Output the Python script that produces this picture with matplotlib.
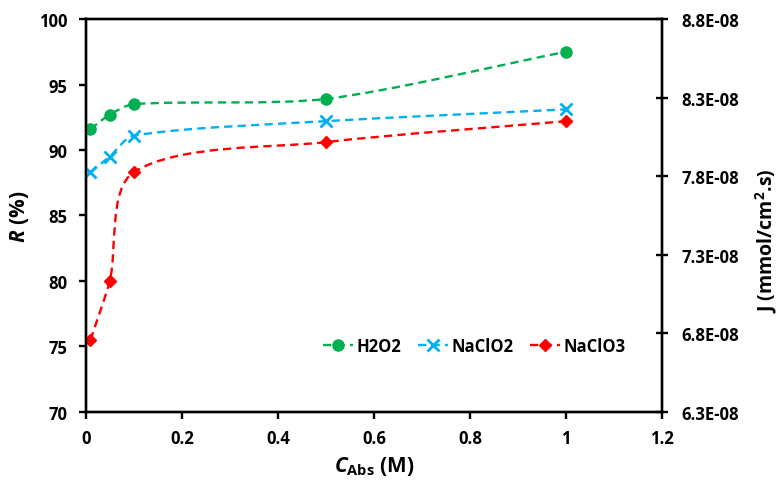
import numpy as np
import matplotlib
matplotlib.use('Agg')
import matplotlib.pyplot as plt
from matplotlib.path import Path
from matplotlib.patches import PathPatch
from matplotlib.lines import Line2D

plt.rcParams['font.family'] = ['Open Sans', 'DejaVu Sans']
plt.rcParams['font.weight'] = 'bold'
plt.rcParams['mathtext.fontset'] = 'custom'
plt.rcParams['mathtext.rm'] = 'Open Sans:bold'
plt.rcParams['mathtext.it'] = 'Open Sans:italic:bold'
plt.rcParams['mathtext.bf'] = 'Open Sans:bold'

# Data
c_abs = [0.01, 0.05, 0.1, 0.5, 1.0]
r_h2o2 = [91.6, 92.7, 93.5, 93.9, 97.5]
r_naclo2 = [88.3, 89.5, 91.1, 92.2, 93.1]
r_naclo3 = [75.5, 80.0, 88.3, 90.6, 92.2]

series_names = ['H2O2', 'NaClO2', 'NaClO3']
colors = ['#00B050', '#00B0F0', '#FF0000']
markers = ['o', 'x', 'D']
marker_sizes = [8, 8, 6.5]

j_ticks = [6.3e-08, 6.8e-08, 7.3e-08, 7.8e-08, 8.3e-08, 8.8e-08]


def smooth_path(ax, x, y, k=0.27):
    # Excel-like smoothed line built in pixel space, with handles scaled
    # to the length of each segment so it does not overshoot
    pts = ax.transData.transform(np.column_stack([x, y]))
    n = len(pts)
    tang = []
    for i in range(n):
        a = pts[max(i - 1, 0)]
        b = pts[min(i + 1, n - 1)]
        d = b - a
        tang.append(d / np.hypot(*d))
    verts = [pts[0]]
    codes = [Path.MOVETO]
    for i in range(n - 1):
        seg = np.hypot(*(pts[i + 1] - pts[i]))
        c1 = pts[i] + tang[i] * seg * k
        c2 = pts[i + 1] - tang[i + 1] * seg * k
        verts += [c1, c2, pts[i + 1]]
        codes += [Path.CURVE4] * 3
    verts = ax.transData.inverted().transform(np.array(verts))
    return Path(verts, codes)


fig = plt.figure(figsize=(7.79, 4.81), dpi=100)
ax = fig.add_axes([0.110, 0.1414, 0.740, 0.817])
ax.set_xlim(0, 1.2)
ax.set_ylim(70, 100)

dash = (0, (3.5, 2.2))
handles = []
for ys, name, col, mk, ms in zip([r_h2o2, r_naclo2, r_naclo3], series_names,
                                 colors, markers, marker_sizes):
    mew = 2 if mk == 'x' else 1
    patch = PathPatch(smooth_path(ax, c_abs, ys), facecolor='none', edgecolor=col,
                      linewidth=1.7, linestyle=dash, zorder=2)
    ax.add_patch(patch)
    ax.plot(c_abs, ys, linestyle='none', marker=mk, color=col, markersize=ms,
            markeredgewidth=mew, zorder=3)
    handles.append(Line2D([], [], color=col, linestyle=dash, linewidth=1.7,
                          marker=mk, markersize=ms, markeredgewidth=mew, label=name))

ax.set_xticks(np.arange(0, 1.21, 0.2))
ax.set_xticklabels(['0', '0.2', '0.4', '0.6', '0.8', '1', '1.2'])
ax.set_yticks(np.arange(70, 101, 5))

for sp in ax.spines.values():
    sp.set_linewidth(1.7)
ax.tick_params(axis='both', direction='out', length=5, width=1.7, labelsize=12)
ax.tick_params(axis='y', pad=8)
ax.tick_params(axis='x', pad=7)
for lbl in ax.get_xticklabels() + ax.get_yticklabels():
    lbl.set_fontweight('bold')

ax.set_xlabel(r'$\mathit{C}_{\mathrm{Abs}}$ (M)', fontsize=15, fontweight='bold', labelpad=5)
ax.set_ylabel(r'$\mathit{R}$ (%)', fontsize=15, fontweight='bold', labelpad=6)

ax2 = ax.twinx()
ax2.set_ylim(6.3e-08, 8.8e-08)
ax2.set_yticks(j_ticks)
ax2.set_yticklabels([f'{v:.1E}' for v in j_ticks], fontweight='bold')
ax2.tick_params(axis='y', direction='inout', length=8, width=1.7, labelsize=12, pad=10)
for sp in ax2.spines.values():
    sp.set_linewidth(1.7)

# right axis title placed by hand so it stays inside the canvas
fig.text(766 / 779, 0.50, r'J (mmol/cm$^{2}$.s)', rotation=90, ha='center',
         va='center', fontsize=14, fontweight='bold')

ax.legend(handles=handles, loc='center', bbox_to_anchor=(0.674, 0.168), ncol=3,
          frameon=False, handlelength=1.8, handletextpad=0.2,
          columnspacing=1.0, prop={'weight': 'bold', 'size': 12})

fig.savefig('out.png', dpi=100)
